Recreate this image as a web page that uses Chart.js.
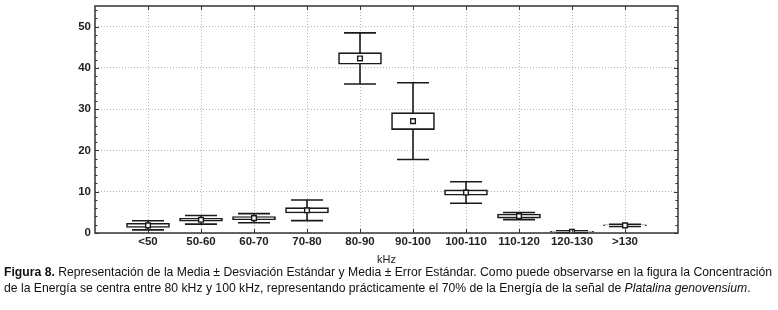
<!DOCTYPE html>
<html>
<head>
<meta charset="utf-8">
<script src="https://cdn.jsdelivr.net/npm/chart.js@4.4.1/dist/chart.umd.min.js"></script>
<style>
  html, body { margin: 0; padding: 0; background: #fff; }
  #wrap { position: relative; width: 778px; height: 310px; overflow: hidden; }
  #cv { position: absolute; left: 0; top: 0; }
  #caption {
    position: absolute; left: 4px; top: 265px; width: 774px;
    font-family: "Liberation Sans", Arial, sans-serif; font-size: 12.2px;
    line-height: 15.5px; color: #111; white-space: nowrap;
  }
</style>
</head>
<body>
<div id="wrap">
  <canvas id="cv" width="778" height="268"></canvas>
  <div id="caption"><b>Figura 8.</b> Representación de la Media ± Desviación Estándar y Media ± Error Estándar. Como puede observarse en la figura la Concentración<br>de la Energía se centra entre 80 kHz y 100 kHz, representando prácticamente el 70% de la Energía de la señal de <i>Platalina genovensium</i>.</div>
</div>
<script>
// categorías de frecuencia (kHz)
const categories = ['<50', '50-60', '60-70', '70-80', '80-90', '90-100', '100-110', '110-120', '120-130', '>130'];
// media, error estándar y desviación estándar
const means = [1.85, 3.2, 3.6, 5.5, 42.3, 27.1, 9.8, 4.1, 0.3, 1.85];
const stdErr = [0.5, 0.35, 0.35, 0.65, 1.4, 2.05, 0.65, 0.5, 0.1, 0.1];
const stdDev = [1.1, 1.05, 1.1, 2.5, 6.2, 9.3, 2.6, 0.85, 0.25, 0.25];
const yTicks = [0, 10, 20, 30, 40, 50];

const INK = '#1a1a1a';

// bigotes de desviación estándar (detrás de las cajas)
const whiskers = {
    id: 'whiskers',
    beforeDatasetsDraw(chart) {
        const { ctx, scales: { x, y } } = chart;
        ctx.save();
        ctx.strokeStyle = INK;
        ctx.lineWidth = 1.6;
        means.forEach((m, i) => {
            const px = x.getPixelForValue(i + 1);
            const top = y.getPixelForValue(m + stdDev[i]);
            const bot = y.getPixelForValue(Math.max(0, m - stdDev[i]));
            ctx.beginPath();
            ctx.moveTo(px, top); ctx.lineTo(px, bot);
            ctx.moveTo(px - 16, top); ctx.lineTo(px + 16, top);
            ctx.moveTo(px - 16, bot); ctx.lineTo(px + 16, bot);
            ctx.stroke();
        });
        ctx.restore();
    }
};

// marco y marcas hacia dentro
const frame = {
    id: 'frame',
    afterDraw(chart) {
        const { ctx, chartArea: a, scales: { x, y } } = chart;
        ctx.save();
        ctx.strokeStyle = '#333';
        ctx.lineWidth = 1.5;
        ctx.strokeRect(a.left, a.top, a.right - a.left, a.bottom - a.top);
        ctx.lineWidth = 1;
        ctx.beginPath();
        for (let v = 0; v <= 54; v += 2) {
            const py = Math.round(y.getPixelForValue(v)) + 0.5;
            const len = v % 10 === 0 ? 4 : 2.5;
            ctx.moveTo(a.left, py); ctx.lineTo(a.left + len, py);
            ctx.moveTo(a.right, py); ctx.lineTo(a.right - len, py);
        }
        categories.forEach((c, i) => {
            const px = Math.round(x.getPixelForValue(i + 1)) + 0.5;
            ctx.moveTo(px, a.bottom); ctx.lineTo(px, a.bottom - 4);
            ctx.moveTo(px, a.top); ctx.lineTo(px, a.top + 4);
        });
        ctx.stroke();
        ctx.restore();
    }
};

const tickFont = { family: '"Liberation Sans", Arial, sans-serif', size: 11.5, weight: 'bold' };

new Chart(document.getElementById('cv'), {
    data: {
        datasets: [
            {
                type: 'bar',
                data: means.map((m, i) => ({ x: i + 1, y: [m - stdErr[i], m + stdErr[i]] })),
                backgroundColor: '#fff',
                borderColor: INK,
                borderWidth: 1.6,
                borderSkipped: false,
                barThickness: 43,
                order: 2
            },
            {
                type: 'scatter',
                data: means.map((m, i) => ({ x: i + 1, y: m })),
                pointStyle: 'rect',
                pointRadius: 3.3,
                backgroundColor: '#fff',
                borderColor: INK,
                borderWidth: 1.4,
                order: 1
            }
        ]
    },
    options: {
        responsive: false,
        animation: false,
        events: [],
        layout: { padding: { left: 0, right: 100, top: 6, bottom: 0 } },
        plugins: { legend: { display: false }, tooltip: { enabled: false } },
        scales: {
            x: {
                type: 'linear', min: 0, max: 11, offset: false,
                afterFit: s => { s.height = 35; s.paddingLeft = 0; s.paddingRight = 0; },
                afterBuildTicks: s => { s.ticks = categories.map((c, i) => ({ value: i + 1 })); },
                ticks: {
                    callback: v => categories[v - 1] || '',
                    font: tickFont, color: '#222', padding: 2, maxRotation: 0, autoSkip: false
                },
                grid: { color: '#b5b5b5', lineWidth: 1, drawTicks: false, offset: false },
                border: { display: false, dash: [1, 2] },
                title: {
                    display: true, text: 'kHz', color: '#222',
                    font: { family: '"Liberation Sans", Arial, sans-serif', size: 11 },
                    padding: { top: 0, bottom: 1 }
                }
            },
            y: {
                min: 0, max: 55,
                afterFit: s => { s.width = 95; s.paddingTop = 0; s.paddingBottom = 0; },
                afterBuildTicks: s => { s.ticks = yTicks.map(v => ({ value: v })); },
                ticks: { font: tickFont, color: '#222', padding: 4 },
                grid: { color: '#b5b5b5', lineWidth: 1, drawTicks: false },
                border: { display: false, dash: [1, 2] }
            }
        }
    },
    plugins: [whiskers, frame]
});
</script>
</body>
</html>
